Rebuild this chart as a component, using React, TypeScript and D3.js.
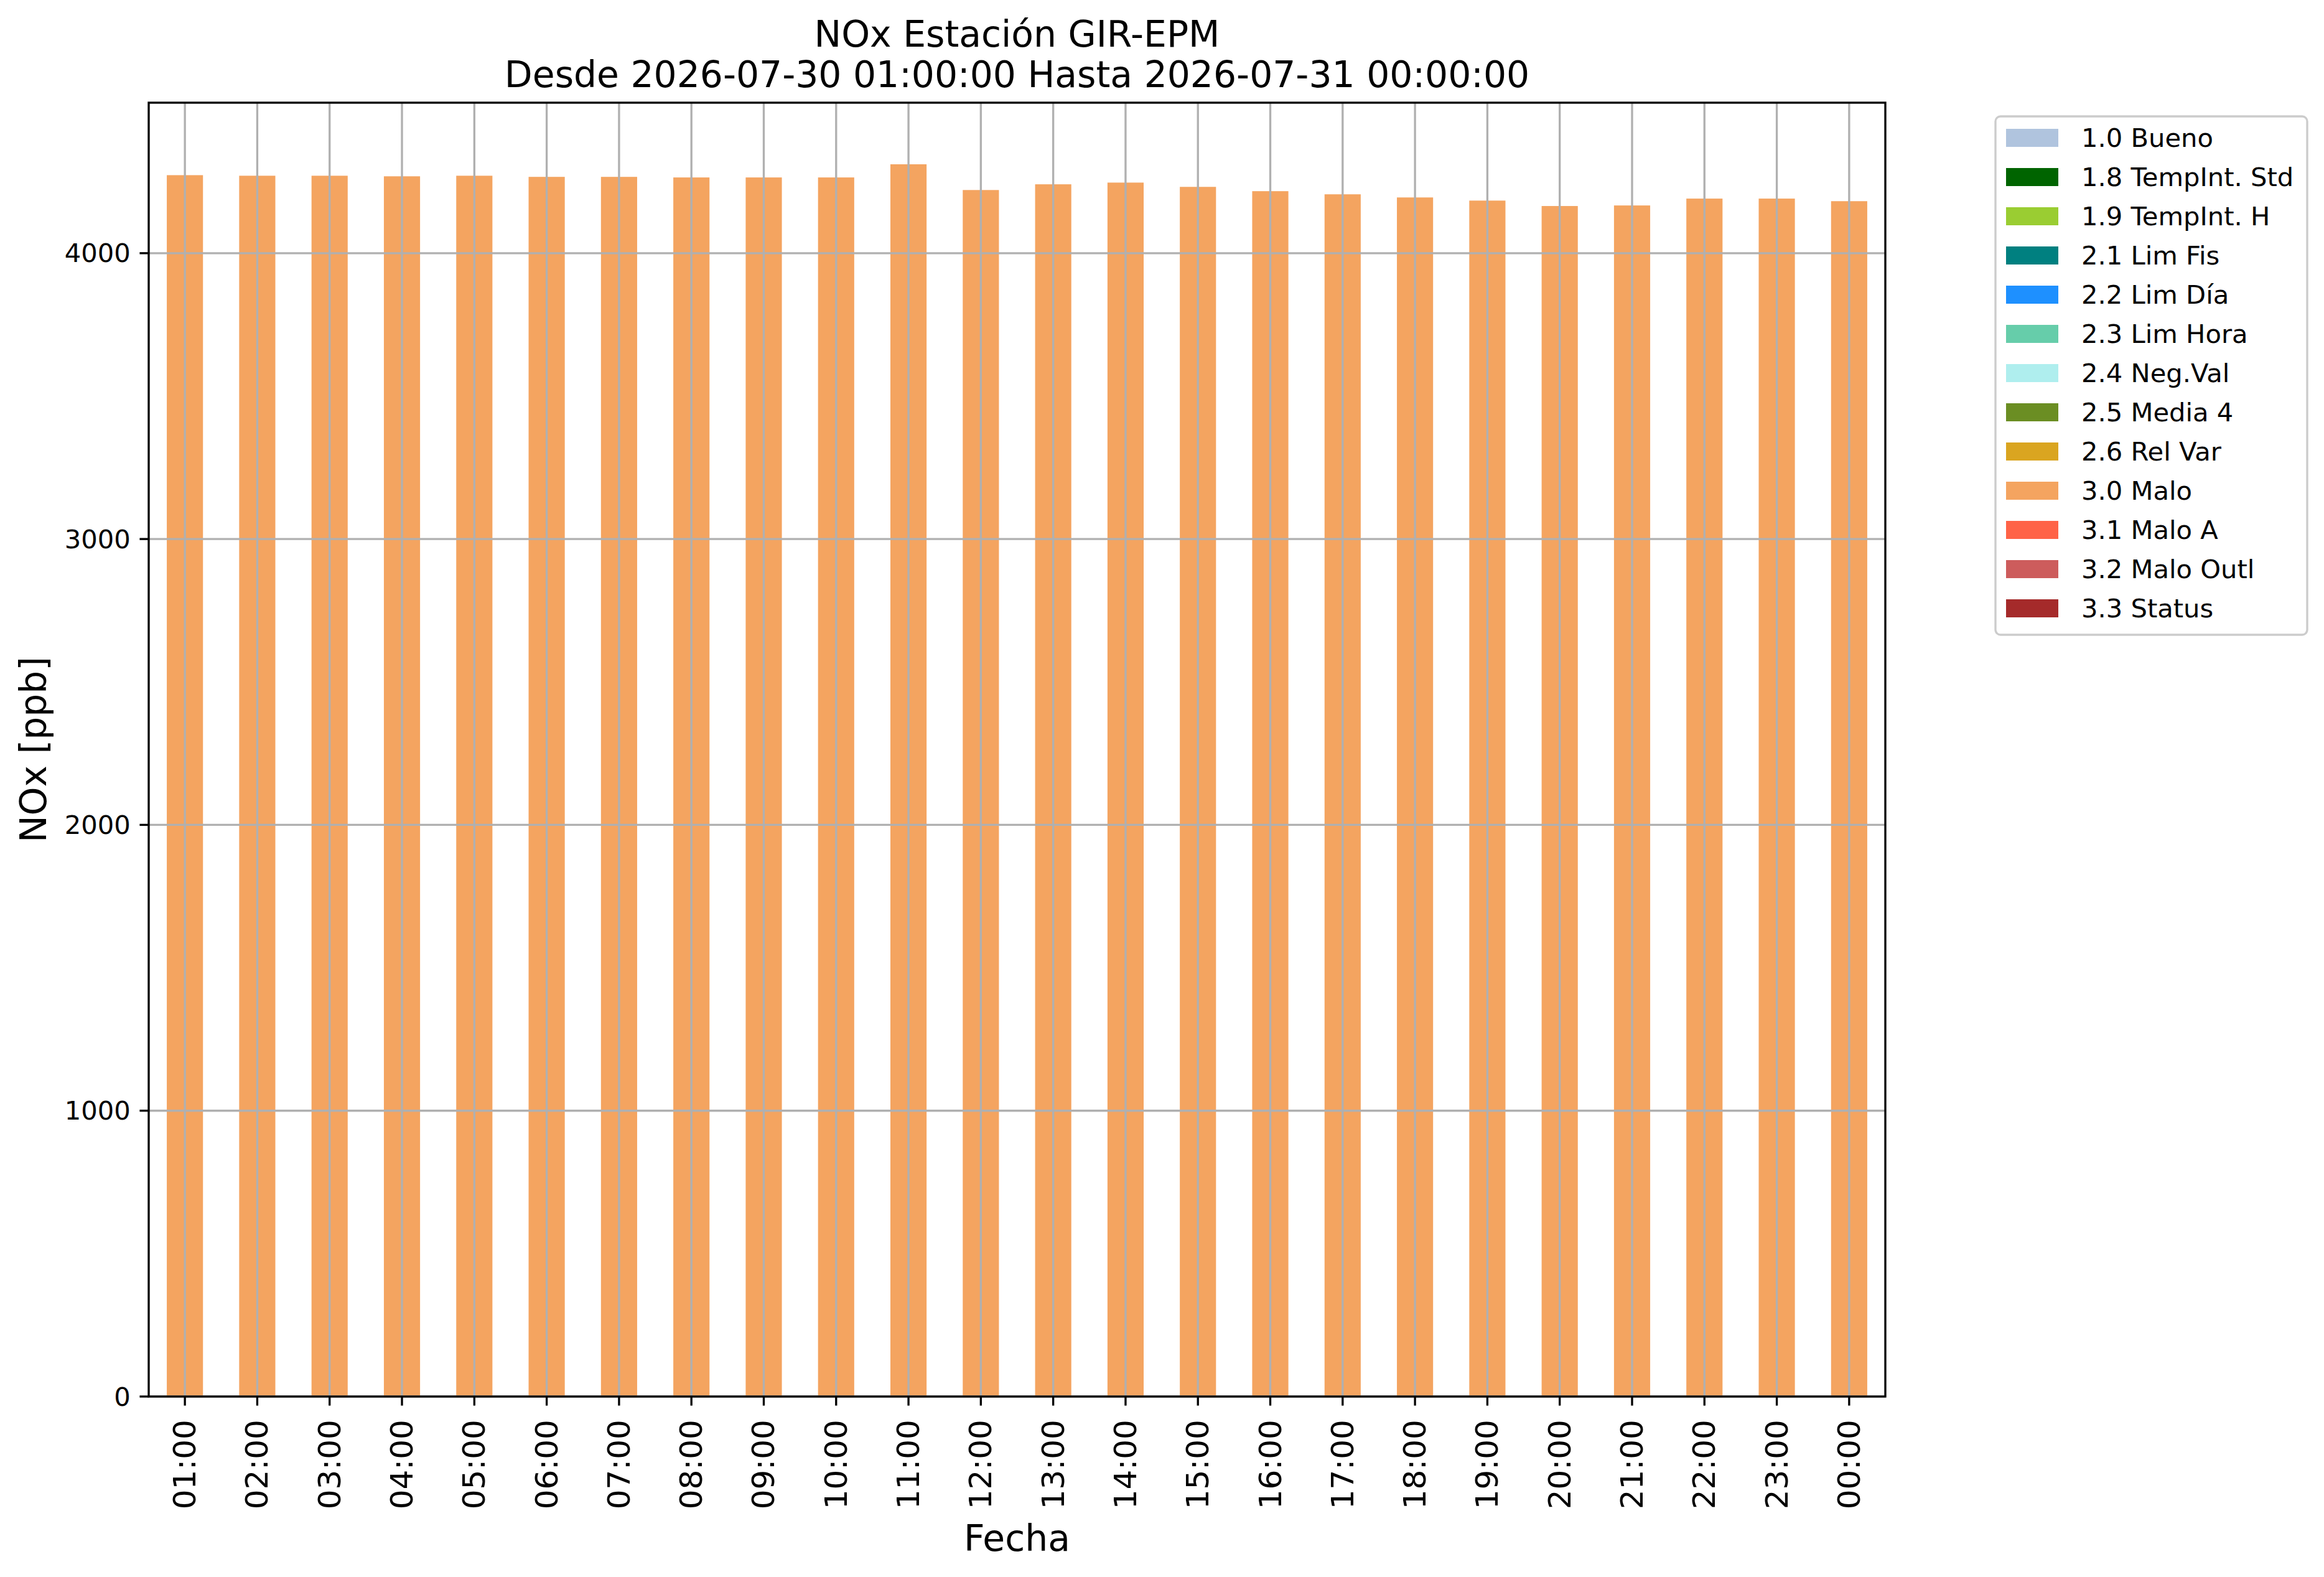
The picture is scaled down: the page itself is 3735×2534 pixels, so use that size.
import React from 'react';
import * as d3 from 'd3';

const hours = [
  '01:00', '02:00', '03:00', '04:00', '05:00', '06:00', '07:00', '08:00',
  '09:00', '10:00', '11:00', '12:00', '13:00', '14:00', '15:00', '16:00',
  '17:00', '18:00', '19:00', '20:00', '21:00', '22:00', '23:00', '00:00',
];

const noxValues = [
  4273, 4271, 4271, 4269, 4271, 4267, 4267, 4265,
  4265, 4265, 4311, 4221, 4241, 4247, 4232, 4217,
  4206, 4195, 4184, 4165, 4167, 4191, 4191, 4182,
];

// every hour got flagged as "3.0 Malo"
const barFlag = '3.0 Malo';

const flagLabels = [
  '1.0 Bueno', '1.8 TempInt. Std', '1.9 TempInt. H', '2.1 Lim Fis',
  '2.2 Lim Día', '2.3 Lim Hora', '2.4 Neg.Val', '2.5 Media 4',
  '2.6 Rel Var', '3.0 Malo', '3.1 Malo A', '3.2 Malo Outl', '3.3 Status',
];

const flagColors = [
  'lightsteelblue', 'darkgreen', 'yellowgreen', 'teal',
  'dodgerblue', 'mediumaquamarine', 'paleturquoise', 'olivedrab',
  'goldenrod', 'sandybrown', 'tomato', 'indianred', 'brown',
];

const yTicks = [0, 1000, 2000, 3000, 4000];

const W = 3735;
const H = 2534;
const m = { left: 239, right: 3030, top: 165, bottom: 2244 };
const pt = 300 / 72;
const font = '"DejaVu Sans", sans-serif';
const gridColor = '#b0b0b0';

const App: React.FC = () => {
  const x = d3
    .scaleBand<string>()
    .domain(hours)
    .range([m.left, m.right])
    .paddingInner(0.5)
    .paddingOuter(0.25);

  const yMax = (d3.max(noxValues) ?? 0) * 1.05;
  const y = d3.scaleLinear().domain([0, yMax]).range([m.bottom, m.top]);

  const color = d3.scaleOrdinal<string, string>().domain(flagLabels).range(flagColors);

  const cx = (h: string) => (x(h) ?? 0) + x.bandwidth() / 2;
  const midX = (m.left + m.right) / 2;
  const tickLen = 3.5 * pt;
  const lw = 0.8 * pt;

  const legX = 3207;
  const legY = 187;
  const rowH = 63;

  return (
    <svg
      width={W}
      height={H}
      style={{ position: 'absolute', left: 0, top: 0, display: 'block', background: '#fff' }}
      fontFamily={font}
    >
      <rect x={0} y={0} width={W} height={H} fill="#fff" />

      {/* title */}
      <text x={midX} y={75} textAnchor="middle" fontSize={14 * pt}>
        NOx Estación GIR-EPM
      </text>
      <text x={midX} y={140} textAnchor="middle" fontSize={14 * pt}>
        Desde 2026-07-30 01:00:00 Hasta 2026-07-31 00:00:00
      </text>

      {/* bars */}
      {hours.map((h, i) => (
        <rect
          key={h}
          x={x(h)}
          y={y(noxValues[i])}
          width={x.bandwidth()}
          height={y(0) - y(noxValues[i])}
          fill={color(barFlag)}
        />
      ))}

      {/* grid */}
      {hours.map(h => (
        <line key={'gx' + h} x1={cx(h)} x2={cx(h)} y1={m.top} y2={m.bottom} stroke={gridColor} strokeWidth={lw} />
      ))}
      {yTicks.map(t => (
        <line key={'gy' + t} x1={m.left} x2={m.right} y1={y(t)} y2={y(t)} stroke={gridColor} strokeWidth={lw} />
      ))}

      {/* spines */}
      <rect
        x={m.left}
        y={m.top}
        width={m.right - m.left}
        height={m.bottom - m.top}
        fill="none"
        stroke="#000"
        strokeWidth={lw}
      />

      {/* y axis */}
      {yTicks.map(t => (
        <g key={'yt' + t}>
          <line x1={m.left - tickLen} x2={m.left} y1={y(t)} y2={y(t)} stroke="#000" strokeWidth={lw} />
          <text
            x={m.left - tickLen - 3.5 * pt}
            y={y(t)}
            textAnchor="end"
            dominantBaseline="central"
            fontSize={10 * pt}
          >
            {t}
          </text>
        </g>
      ))}
      <text transform={`translate(74,${(m.top + m.bottom) / 2}) rotate(-90)`} textAnchor="middle" fontSize={14 * pt}>
        NOx [ppb]
      </text>

      {/* x axis */}
      {hours.map(h => (
        <g key={'xt' + h}>
          <line x1={cx(h)} x2={cx(h)} y1={m.bottom} y2={m.bottom + tickLen} stroke="#000" strokeWidth={lw} />
          <text
            transform={`translate(${cx(h)},${m.bottom + tickLen + 3.5 * pt + 8}) rotate(-90)`}
            textAnchor="end"
            dominantBaseline="central"
            fontSize={12 * pt}
          >
            {h}
          </text>
        </g>
      ))}
      <text x={midX} y={2492} textAnchor="middle" fontSize={14 * pt}>
        Fecha
      </text>

      {/* legend */}
      <rect
        x={legX}
        y={legY}
        width={501}
        height={833}
        rx={8}
        fill="#fff"
        fillOpacity={0.8}
        stroke="#cccccc"
        strokeWidth={lw}
      />
      {flagLabels.map((lab, i) => {
        const c = legY + 34.5 + i * rowH;
        return (
          <g key={lab}>
            <rect x={3224} y={c - 14.5} width={84} height={29} fill={color(lab)} />
            <text x={3345} y={c + 14} fontSize={10 * pt}>
              {lab}
            </text>
          </g>
        );
      })}
    </svg>
  );
};

export default App;
